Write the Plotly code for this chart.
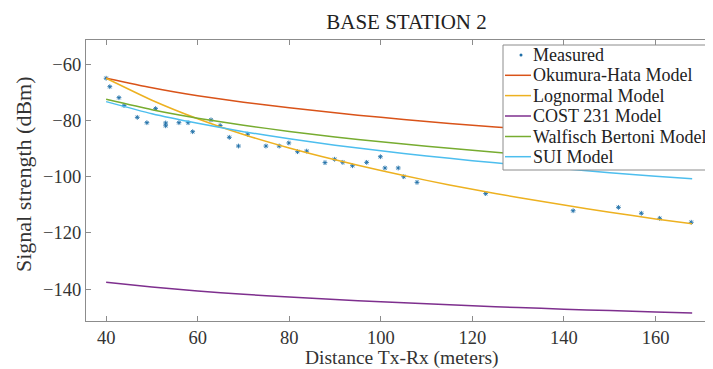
import plotly.graph_objects as go

# Measured samples (distance in m, signal in dBm)
meas_x = [40, 40.8, 42.8, 43.9, 46.8, 48.9, 50.8, 53.0, 53.0, 55.9, 57.9, 58.9,
          62.9, 64.9, 66.9, 68.9, 70.9, 74.9, 77.8, 79.9, 81.8, 83.8, 87.8, 89.9,
          91.7, 93.8, 96.9, 99.9, 100.9, 103.8, 105.0, 107.9, 122.9, 142.0, 151.9,
          156.9, 160.9, 167.8]
meas_y = [-65.0, -68.0, -71.9, -74.7, -78.9, -80.8, -75.8, -80.9, -81.9, -80.8, -80.8, -84.0,
          -79.8, -81.8, -86.0, -89.1, -84.9, -89.1, -89.1, -88.0, -91.1, -90.9, -95.0, -93.8,
          -94.9, -96.1, -94.9, -92.9, -96.9, -96.9, -100.0, -102.0, -106.0, -112.1, -110.9,
          -113.0, -114.8, -116.2]

# Model curves read at these distances
dist = [40, 50, 60, 70, 80, 90, 100, 110, 120, 130, 140, 150, 160, 168]
okumura_hata = [-65.0, -68.4, -71.2, -73.5, -75.5, -77.3, -78.9, -80.4, -81.7, -82.9, -84.0, -85.1, -86.1, -86.8]
lognormal = [-65.0, -72.8, -79.4, -85.0, -89.8, -94.0, -97.8, -101.3, -104.5, -107.4, -110.1, -112.6, -115.0, -116.7]
cost231 = [-137.5, -139.2, -140.6, -141.8, -142.8, -143.7, -144.5, -145.2, -145.9, -146.5, -147.1, -147.6, -148.1, -148.5]
walfisch_bertoni = [-72.5, -76.2, -79.2, -81.7, -83.9, -85.9, -87.6, -89.2, -90.6, -92.0, -93.2, -94.3, -95.4, -96.2]
sui = [-73.3, -77.6, -81.0, -84.0, -86.5, -88.8, -90.8, -92.6, -94.3, -95.8, -97.2, -98.6, -99.8, -100.7]

x_ticks = [40, 60, 80, 100, 120, 140, 160]
y_ticks = [-140, -120, -100, -80, -60]

SERIF = "Liberation Serif, Times New Roman, serif"
MEAS_COLOR = "#1f6fa8"
models = [
    ("Okumura-Hata Model", okumura_hata, "#D95319"),
    ("Lognormal Model", lognormal, "#EDB120"),
    ("COST 231 Model", cost231, "#7E2F8E"),
    ("Walfisch Bertoni Model", walfisch_bertoni, "#77AC30"),
    ("SUI Model", sui, "#4DBEEE"),
]

# page offset (body margin) and plot-area geometry in figure pixels
OFF = 8
ML, MT = 78, 32
W, H = 713, 369
PB = 313
PW, PH = W - ML, PB - MT


def px(sx):  # screen x -> paper x
    return (sx - OFF - ML) / PW


def py(sy):  # screen y -> paper y
    return (PB - (sy - OFF)) / PH


fig = go.Figure()
fig.add_trace(go.Scatter(x=meas_x, y=meas_y, mode="markers", name="Measured",
                         marker=dict(symbol="asterisk-open", size=4, color=MEAS_COLOR,
                                     line=dict(width=0.9, color=MEAS_COLOR))))
for name, vals, col in models:
    fig.add_trace(go.Scatter(x=dist, y=vals, mode="lines", name=name,
                             line=dict(color=col, width=1.5, shape="spline", smoothing=0.6)))

axis_common = dict(showline=True, linecolor="#8c8c8c", linewidth=1, ticks="inside",
                   ticklen=5, tickcolor="#8c8c8c", showgrid=False, zeroline=False,
                   tickfont=dict(family=SERIF, size=18.5, color="#333333"))

# custom legend
shapes = [dict(type="rect", xref="paper", yref="paper", x0=px(503), x1=px(760),
               y0=py(170), y1=py(45), fillcolor="white", line=dict(color="#8c8c8c", width=1),
               layer="above")]
annotations = []
row_y = [55, 75.3, 95.6, 116, 136.5, 156.7]
labels = ["Measured"] + [m[0] for m in models]
for i, (lab, ry) in enumerate(zip(labels, row_y)):
    if i == 0:
        shapes.append(dict(type="circle", xref="paper", yref="paper",
                           x0=px(519.5), x1=px(522.5), y0=py(ry + 1.5), y1=py(ry - 1.5),
                           fillcolor=MEAS_COLOR, line=dict(width=0), layer="above"))
    else:
        shapes.append(dict(type="line", xref="paper", yref="paper",
                           x0=px(505), x1=px(531), y0=py(ry), y1=py(ry),
                           line=dict(color=models[i - 1][2], width=1.5), layer="above"))
    annotations.append(dict(text=lab, xref="paper", yref="paper", x=px(531), y=py(ry),
                            xanchor="left", yanchor="middle", showarrow=False,
                            font=dict(family=SERIF, size=18, color="#222222")))

annotations += [
    dict(text="Signal strength (dBm)", textangle=-90, xref="paper", yref="paper",
         x=px(23.5), y=py(174.5), xanchor="center", yanchor="middle",
         showarrow=False, font=dict(family=SERIF, size=22, color="#333333")),
    dict(text="Distance Tx-Rx (meters)", xref="paper", yref="paper",
         x=px(402), y=py(357.5), xanchor="center", yanchor="middle",
         showarrow=False, font=dict(family=SERIF, size=19.5, color="#333333")),
]

fig.update_layout(
    width=W, height=H,
    margin=dict(l=ML, r=0, t=MT, b=H - PB),
    paper_bgcolor="white", plot_bgcolor="white",
    title=dict(text="BASE STATION 2", x=(406.5 - OFF) / W, xref="container", xanchor="center",
               y=1 - (21.5 - OFF) / H, yref="container", yanchor="middle",
               font=dict(family=SERIF, size=21, color="#222222")),
    xaxis=dict(range=[35.6, 174.3], tickvals=x_ticks, mirror="ticks", **axis_common),
    yaxis=dict(range=[-151.3, -51.4], tickvals=y_ticks, mirror=False, **axis_common),
    showlegend=False,
    shapes=shapes,
    annotations=annotations,
)

fig.write_html("out.html")
